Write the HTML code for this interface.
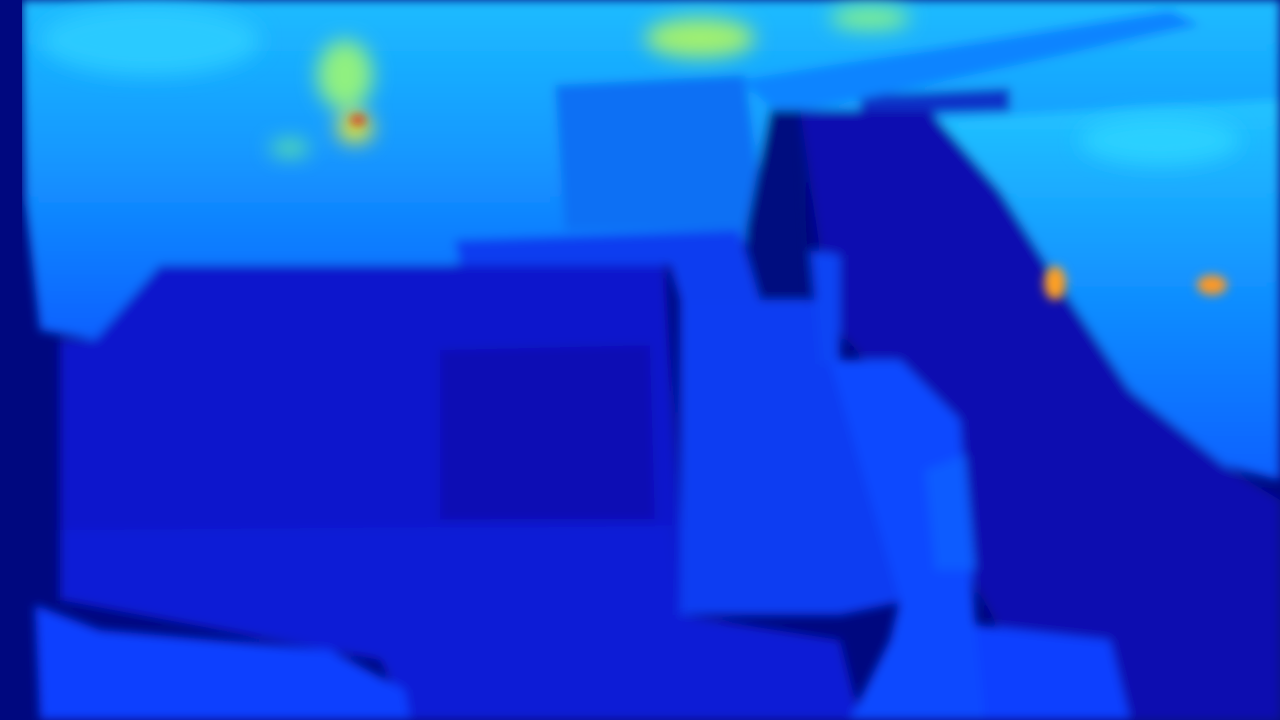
<!DOCTYPE html>
<html><head><meta charset="utf-8"><title>Depth map</title>
<style>html,body{margin:0;padding:0;background:#00087f;overflow:hidden}svg{display:block}</style></head>
<body>
<svg width="1280" height="720" viewBox="0 0 1280 720" xmlns="http://www.w3.org/2000/svg">
<defs>
<filter id="b" x="-10%" y="-10%" width="120%" height="120%"><feGaussianBlur stdDeviation="5"/></filter>
<filter id="b2" x="-20%" y="-20%" width="140%" height="140%"><feGaussianBlur stdDeviation="10"/></filter>
<linearGradient id="sky" x1="0" y1="0" x2="0" y2="1">
<stop offset="0" stop-color="#1cbcff"/><stop offset="0.45" stop-color="#1498ff"/><stop offset="1" stop-color="#0a60ff"/></linearGradient>
<linearGradient id="right" x1="0" y1="0" x2="0" y2="1">
<stop offset="0" stop-color="#22c4ff"/><stop offset="0.5" stop-color="#1190ff"/><stop offset="1" stop-color="#0a60ff"/></linearGradient>
</defs>
<rect width="1280" height="720" fill="#00087f"/>
<g filter="url(#b)">
<path d="M22 0 H1280 V140 L930 125 L800 110 L770 240 L450 265 H160 L95 340 L40 330 L25 200 Z" fill="url(#sky)"/>
<path d="M860 95 L1010 88 L1010 112 L860 115 Z" fill="#0a30c8"/>
<path d="M930 120 L1280 100 V480 L1200 460 L1120 380 L1060 300 L990 200 Z" fill="url(#right)"/>
<path d="M555 85 L745 75 L765 230 L565 230 Z" fill="#0a70f4"/>
<path d="M740 80 L1170 10 L1200 25 L880 95 L780 115 Z" fill="#0a84ff"/>
<path d="M770 110 L800 110 L810 300 L760 300 L745 235 Z" fill="#00087f"/>
<path d="M800 110 L930 110 L1000 190 L1070 300 L1130 390 L1230 470 L1280 500 V720 H1130 L1000 630 L940 520 L900 400 L830 320 Z" fill="#0a10b0"/>
<path d="M455 240 L740 230 L760 300 L680 300 L670 265 L460 265 Z" fill="#0a3cf0"/>
<path d="M60 340 L95 340 L160 265 L665 265 L680 530 L680 620 L420 640 L60 600 Z" fill="#0a18cc"/>
<path d="M440 350 L650 345 L655 520 L440 520 Z" fill="#0a10b4"/>
<path d="M60 530 L670 525 L680 615 L840 640 L860 720 L410 720 L380 660 L60 600 Z" fill="#0a1ad6"/>
<path d="M35 605 L100 630 L330 650 L405 690 L410 720 H40 Z" fill="#0a40ff"/>
<path d="M680 300 L820 300 L840 365 L900 360 L910 600 L840 615 L680 615 Z" fill="#0a3ef2"/>
<path d="M830 360 L900 360 L960 420 L975 620 L1000 720 L850 720 L890 640 L900 600 Z" fill="#0a48ff"/>
<path d="M975 625 L1110 640 L1130 720 H985 Z" fill="#0a40ff"/>
<path d="M925 470 L965 455 L975 570 L935 570 Z" fill="#0a5cff"/>
<path d="M810 250 L840 255 L840 360 L820 365 Z" fill="#0a44f4"/>
</g>
<g filter="url(#b2)">
<ellipse cx="345" cy="75" rx="28" ry="35" fill="#90f080"/>
<ellipse cx="355" cy="128" rx="18" ry="15" fill="#e8e830"/>
<ellipse cx="700" cy="38" rx="55" ry="20" fill="#a0f070"/>
<ellipse cx="870" cy="18" rx="40" ry="12" fill="#80f090"/>
<ellipse cx="290" cy="148" rx="20" ry="8" fill="#60e8a0"/>
<ellipse cx="150" cy="40" rx="110" ry="35" fill="#2ccaff"/>
<ellipse cx="1160" cy="140" rx="80" ry="25" fill="#2cd0ff"/>
</g>
<g filter="url(#b)">
<ellipse cx="1055" cy="283" rx="11" ry="17" fill="#ffa020"/>
<ellipse cx="1212" cy="285" rx="15" ry="10" fill="#ff9820"/>
<ellipse cx="358" cy="120" rx="8" ry="5" fill="#e03010"/>
</g>
<rect x="0" y="0" width="22" height="720" fill="#00087f"/>
</svg>
</body></html>
